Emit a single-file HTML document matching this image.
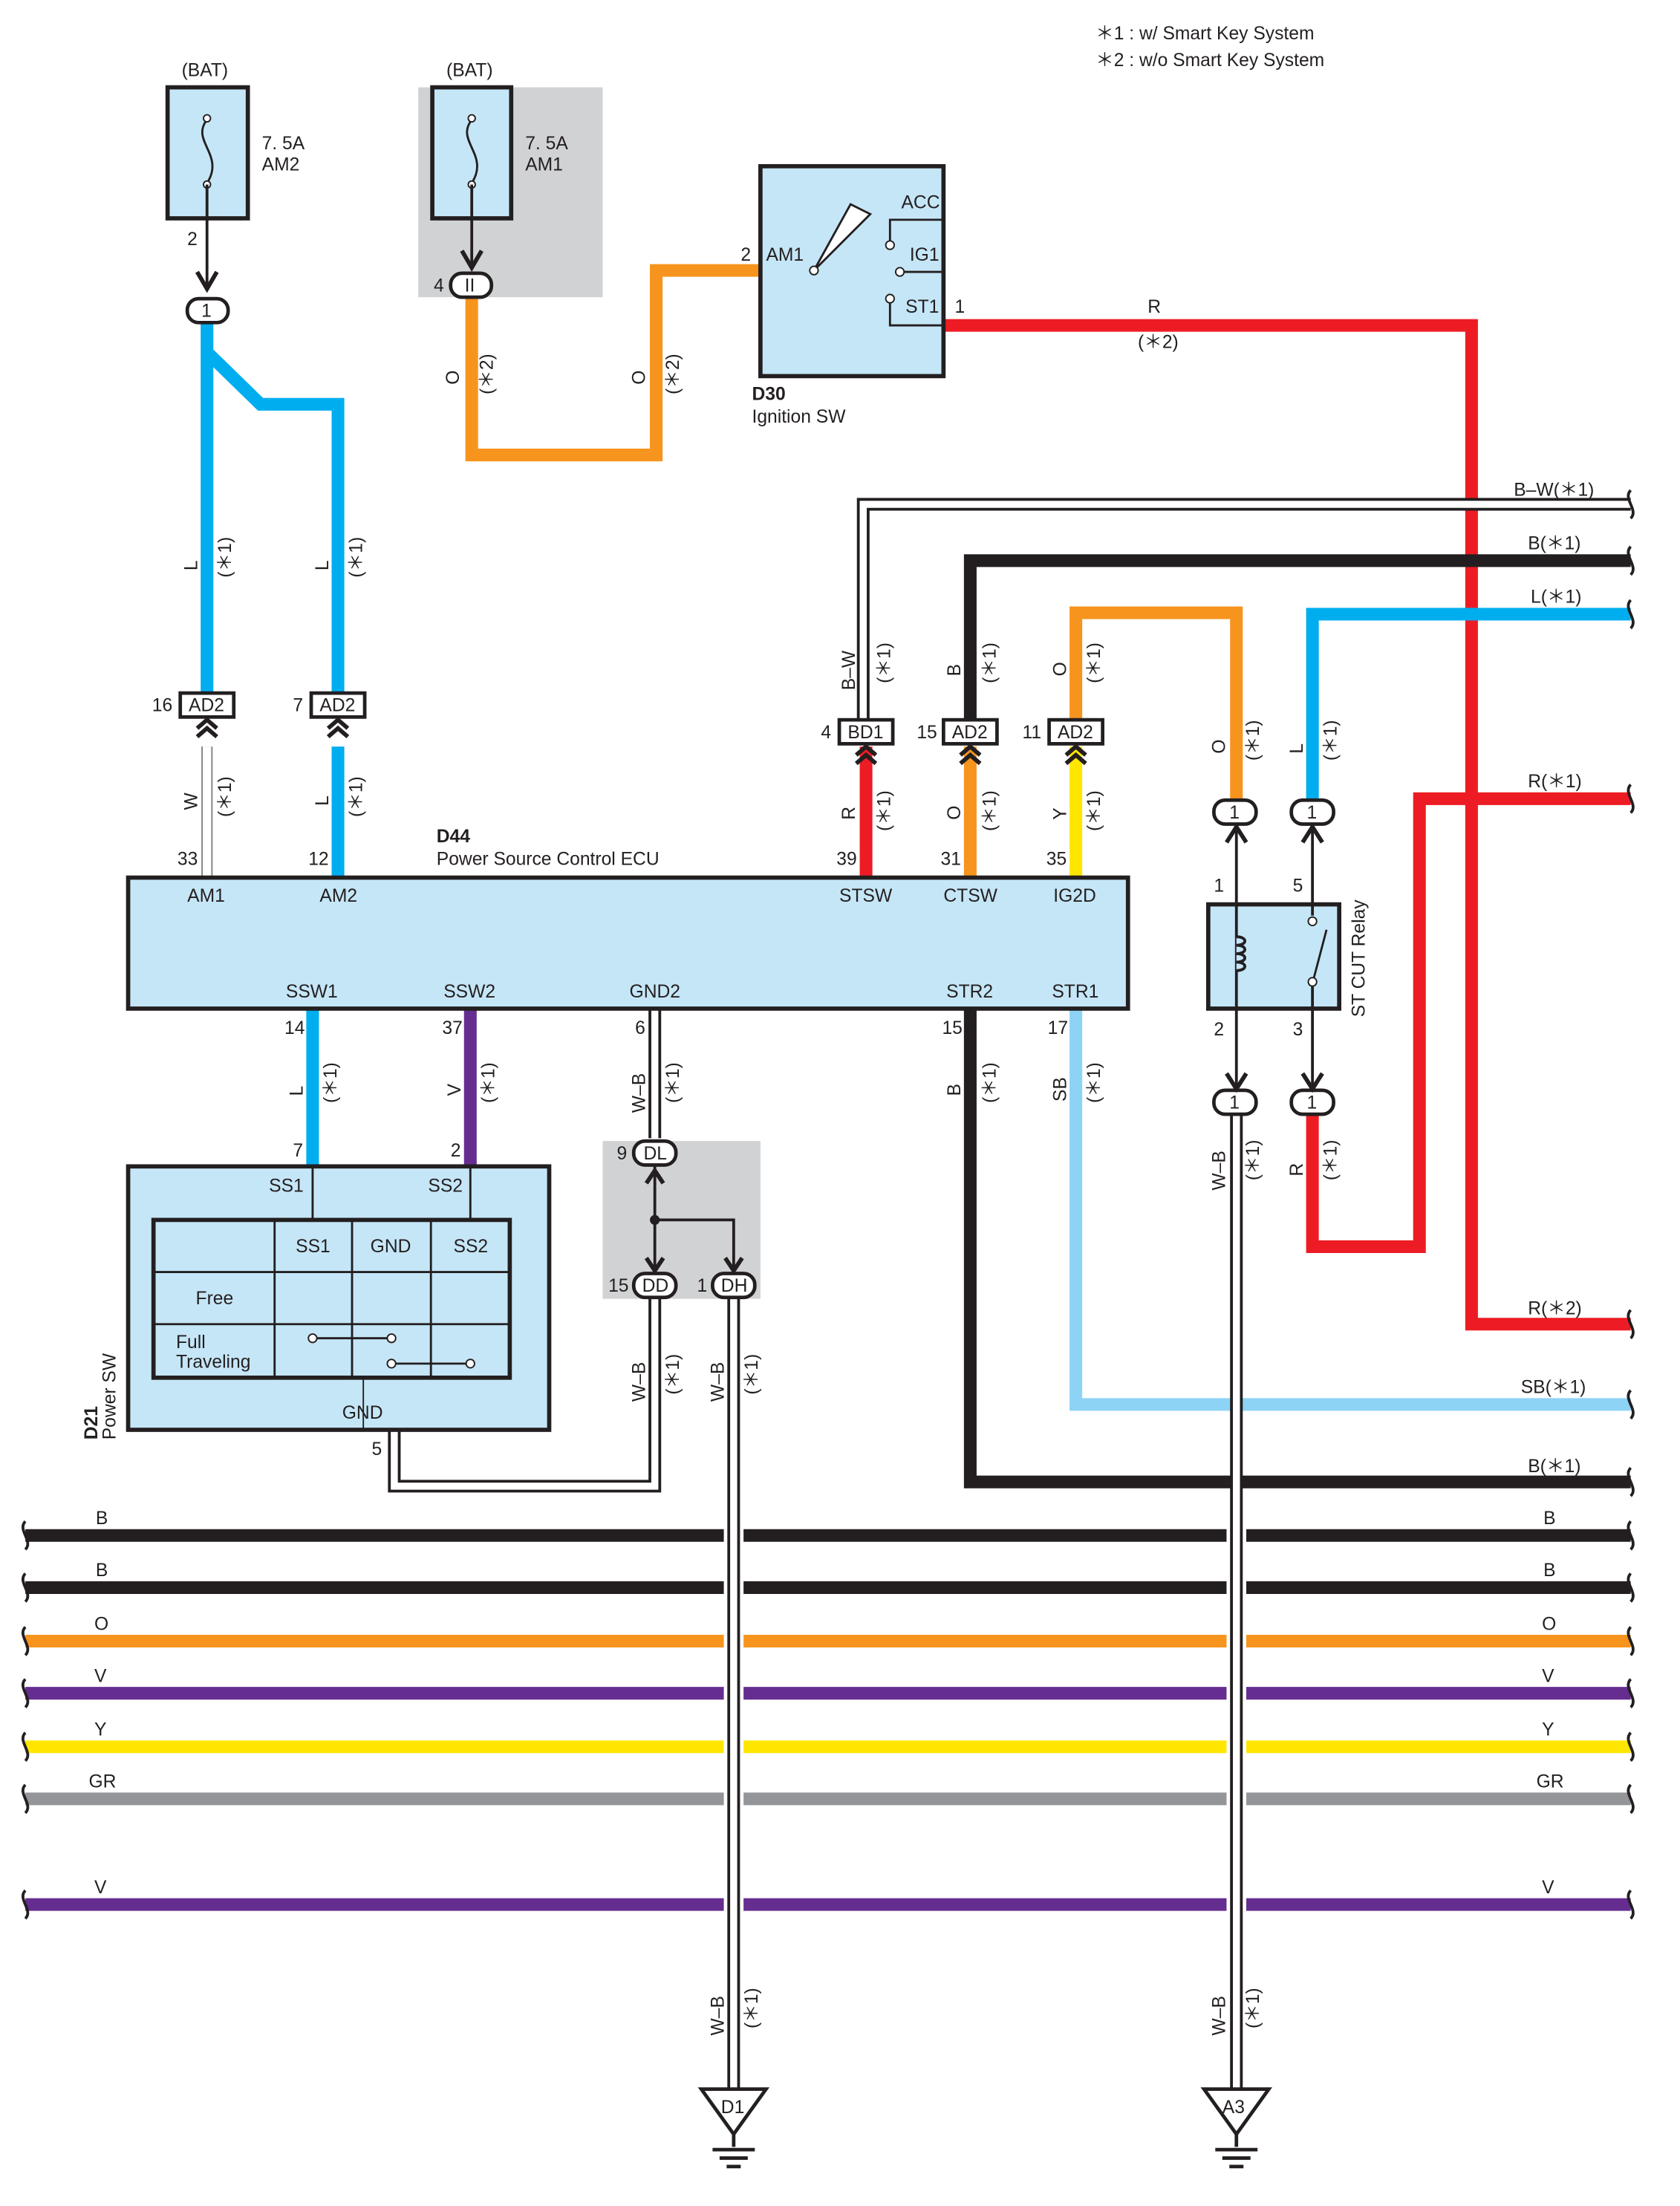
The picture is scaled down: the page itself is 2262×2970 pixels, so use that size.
<!DOCTYPE html>
<html><head><meta charset="utf-8"><style>
html,body{margin:0;padding:0;background:#fff}
svg{display:block}
text{font-family:"Liberation Sans",sans-serif;font-size:13px;fill:#231f20}
.b{font-weight:bold}
</style></head><body>
<svg width="2262" height="2970" viewBox="0 0 1193 1566" preserveAspectRatio="none" xmlns="http://www.w3.org/2000/svg">
<defs>
<g id="chev"><path d="M-7,7 L0,1 L7,7 M-7,13 L0,7 L7,13" fill="none" stroke="#231f20" stroke-width="3"/></g>
<g id="wav"><path d="M0,-10 C-6,-4 6,4 0,10" fill="none" stroke="#231f20" stroke-width="2"/></g>
</defs>
<text x="778" y="28">＊1 : w/ Smart Key System</text>
<text x="778" y="47">＊2 : w/o Smart Key System</text>

<rect x="297" y="62" width="131" height="149" fill="#d1d2d4"/>
<rect x="428" y="810" width="112" height="112" fill="#d1d2d4"/>

<rect x="119" y="62" width="57" height="93" fill="#c5e6f7" stroke="#231f20" stroke-width="3"/>
<path d="M147,85 C135,100 160,110 147,130" fill="none" stroke="#231f20" stroke-width="1.5"/>
<circle cx="147" cy="84" r="2.5" fill="#fff" stroke="#231f20"/><circle cx="147" cy="131" r="2.5" fill="#fff" stroke="#231f20"/>
<text x="129" y="54">(BAT)</text><text x="186" y="106">7. 5A</text><text x="186" y="121">AM2</text>
<rect x="307" y="62" width="56" height="93" fill="#c5e6f7" stroke="#231f20" stroke-width="3"/>
<path d="M335,85 C323,100 348,110 335,130" fill="none" stroke="#231f20" stroke-width="1.5"/>
<circle cx="335" cy="84" r="2.5" fill="#fff" stroke="#231f20"/><circle cx="335" cy="131" r="2.5" fill="#fff" stroke="#231f20"/>
<text x="317" y="54">(BAT)</text><text x="373" y="106">7. 5A</text><text x="373" y="121">AM1</text>
<line x1="147" y1="131" x2="147" y2="205" stroke="#231f20" stroke-width="2"/>
<path d="M140,193 L147,205 L154,193" fill="none" stroke="#231f20" stroke-width="3"/>
<text x="133" y="174">2</text>
<line x1="335" y1="131" x2="335" y2="190" stroke="#231f20" stroke-width="2"/>
<path d="M328,178 L335,190 L342,178" fill="none" stroke="#231f20" stroke-width="3"/>
<text x="308" y="207">4</text>

<g fill="none" stroke-width="9" stroke-linejoin="miter">
<path d="M147,228 V492 M147,250 L185,287 H240 V492" stroke="#00aeef"/>
<path d="M335,210 V323 H466 V192 H540" stroke="#f7941d"/>
<path d="M670,231 H1045 V940 H1158" stroke="#ed1c24"/>
<path d="M1158,398 H689 V512" stroke="#231f20"/>
<path d="M878,568 V435 H764 V512" stroke="#f7941d"/>
<path d="M1158,436 H932 V568" stroke="#00aeef"/>
<path d="M932,790 V885 H1008 V567 H1158" stroke="#ed1c24"/>
<path d="M240,530 V623" stroke="#00aeef"/>
<path d="M615,530 V623" stroke="#ed1c24"/>
<path d="M689,530 V623" stroke="#f7941d"/>
<path d="M764,530 V623" stroke="#ffe600"/>
<path d="M222,716 V828" stroke="#00aeef"/>
<path d="M334,716 V828" stroke="#662d91"/>
<path d="M689,716 V1052 H1158" stroke="#231f20"/>
<path d="M764,716 V997 H1158" stroke="#8dd3f5"/>
</g>
<g fill="none" stroke-linejoin="miter">
<path d="M1158,358 H613 V512" stroke="#231f20" stroke-width="9"/>
<path d="M1158,358 H613 V512" stroke="#fff" stroke-width="5"/>
<path d="M147,530 V623" stroke="#808285" stroke-width="8"/><path d="M147,530 V623" stroke="#fff" stroke-width="6"/>
<path d="M465,716 V808 M280,1015 V1055 H465 V920" stroke="#231f20" stroke-width="9"/>
<path d="M465,716 V808 M280,1015 V1055 H465 V920" stroke="#fff" stroke-width="5"/>
</g>

<g stroke-width="9">
<line x1="18" y1="1090" x2="1158" y2="1090" stroke="#231f20"/>
<line x1="18" y1="1127" x2="1158" y2="1127" stroke="#231f20"/>
<line x1="18" y1="1165" x2="1158" y2="1165" stroke="#f7941d"/>
<line x1="18" y1="1202" x2="1158" y2="1202" stroke="#662d91"/>
<line x1="18" y1="1240" x2="1158" y2="1240" stroke="#ffe600"/>
<line x1="18" y1="1277" x2="1158" y2="1277" stroke="#939598"/>
<line x1="18" y1="1352" x2="1158" y2="1352" stroke="#662d91"/>
</g>
<g fill="none">
<path d="M521,1080 V1362 M878,1080 V1362" stroke="#fff" stroke-width="14"/>
<path d="M521,920 V1483 M878,790 V1483" stroke="#231f20" stroke-width="9"/>
<path d="M521,920 V1483 M878,790 V1483" stroke="#fff" stroke-width="5"/>
</g>
<g>
<use href="#wav" x="18" y="1090"/><use href="#wav" x="18" y="1127"/><use href="#wav" x="18" y="1165"/><use href="#wav" x="18" y="1202"/><use href="#wav" x="18" y="1240"/><use href="#wav" x="18" y="1277"/><use href="#wav" x="18" y="1352"/>
<use href="#wav" x="1158" y="1090"/><use href="#wav" x="1158" y="1127"/><use href="#wav" x="1158" y="1165"/><use href="#wav" x="1158" y="1202"/><use href="#wav" x="1158" y="1240"/><use href="#wav" x="1158" y="1277"/><use href="#wav" x="1158" y="1352"/>
<use href="#wav" x="1158" y="358"/><use href="#wav" x="1158" y="398"/><use href="#wav" x="1158" y="436"/><use href="#wav" x="1158" y="567"/><use href="#wav" x="1158" y="940"/><use href="#wav" x="1158" y="997"/><use href="#wav" x="1158" y="1052"/>
</g>
<g>
<text x="68" y="1082">B</text><text x="68" y="1119">B</text><text x="67" y="1157">O</text><text x="67" y="1194">V</text><text x="67" y="1232">Y</text><text x="63" y="1269">GR</text><text x="67" y="1344">V</text>
<text x="1096" y="1082">B</text><text x="1096" y="1119">B</text><text x="1095" y="1157">O</text><text x="1095" y="1194">V</text><text x="1095" y="1232">Y</text><text x="1091" y="1269">GR</text><text x="1095" y="1344">V</text>
<text x="1075" y="352">B–W(＊1)</text><text x="1085" y="390">B(＊1)</text><text x="1087" y="428">L(＊1)</text><text x="1085" y="559">R(＊1)</text><text x="1085" y="933">R(＊2)</text><text x="1080" y="989">SB(＊1)</text><text x="1085" y="1045">B(＊1)</text>
<text x="815" y="222">R</text><text x="808" y="247">(＊2)</text>
</g>

<rect x="540" y="118" width="130" height="149" fill="#c5e6f7" stroke="#231f20" stroke-width="3"/>
<g fill="none" stroke="#231f20" stroke-width="1.5">
<path d="M578,192 L604,145 L618,152 Z" fill="#fff"/>
<path d="M632,176 V156 H670 M639,193 H670 M632,212 V231 H670"/>
</g>
<circle cx="578" cy="192" r="3" fill="#fff" stroke="#231f20"/><circle cx="632" cy="174" r="3" fill="#fff" stroke="#231f20"/><circle cx="639" cy="193" r="3" fill="#fff" stroke="#231f20"/><circle cx="632" cy="212" r="3" fill="#fff" stroke="#231f20"/>
<text x="544" y="185">AM1</text><text x="640" y="148">ACC</text><text x="646" y="185">IG1</text><text x="643" y="222">ST1</text>
<text x="526" y="185">2</text><text x="678" y="222">1</text>
<text x="534" y="284" class="b">D30</text><text x="534" y="300">Ignition SW</text>

<g stroke="#231f20" stroke-width="2.5">
<rect x="133" y="212" width="29" height="17" rx="8" fill="#fff"/>
<rect x="320" y="194" width="29" height="17" rx="8" fill="#fff"/>
<rect x="862" y="568" width="30" height="17" rx="8" fill="#fff"/><rect x="917" y="568" width="30" height="17" rx="8" fill="#fff"/>
<rect x="862" y="774" width="30" height="17" rx="8" fill="#fff"/><rect x="917" y="774" width="30" height="17" rx="8" fill="#fff"/>
<rect x="450" y="810" width="30" height="17" rx="8" fill="#fff"/>
<rect x="450" y="904" width="30" height="17" rx="8" fill="#fff"/><rect x="506" y="904" width="30" height="17" rx="8" fill="#fff"/>
<rect x="128" y="492" width="38" height="17" fill="#fff"/><rect x="221" y="492" width="38" height="17" fill="#fff"/>
<rect x="596" y="511" width="38" height="17" fill="#fff"/><rect x="670" y="511" width="38" height="17" fill="#fff"/><rect x="745" y="511" width="38" height="17" fill="#fff"/>
</g>
<g font-size="12">
<text x="143" y="225">1</text><text x="330" y="207">II</text>
<text x="873" y="581">1</text><text x="928" y="581">1</text><text x="873" y="787">1</text><text x="928" y="787">1</text>
<text x="457" y="823">DL</text><text x="456" y="917">DD</text><text x="512" y="917">DH</text>
<text x="134" y="505">AD2</text><text x="227" y="505">AD2</text><text x="602" y="524">BD1</text><text x="676" y="524">AD2</text><text x="751" y="524">AD2</text>
</g>
<use href="#chev" x="147" y="510"/><use href="#chev" x="240" y="510"/><use href="#chev" x="615" y="529"/><use href="#chev" x="689" y="529"/><use href="#chev" x="764" y="529"/>
<text x="108" y="505">16</text><text x="208" y="505">7</text><text x="583" y="524">4</text><text x="651" y="524">15</text><text x="726" y="524">11</text>

<g>
<text transform="translate(140,405) rotate(-90)">L</text><text transform="translate(164,410) rotate(-90)">(＊1)</text>
<text transform="translate(233,405) rotate(-90)">L</text><text transform="translate(257,410) rotate(-90)">(＊1)</text>
<text transform="translate(326,273) rotate(-90)">O</text><text transform="translate(350,280) rotate(-90)">(＊2)</text>
<text transform="translate(458,273) rotate(-90)">O</text><text transform="translate(482,280) rotate(-90)">(＊2)</text>
<text transform="translate(140,575) rotate(-90)">W</text><text transform="translate(164,580) rotate(-90)">(＊1)</text>
<text transform="translate(233,572) rotate(-90)">L</text><text transform="translate(257,580) rotate(-90)">(＊1)</text>
<text transform="translate(607,490) rotate(-90)">B–W</text><text transform="translate(632,485) rotate(-90)">(＊1)</text>
<text transform="translate(682,480) rotate(-90)">B</text><text transform="translate(707,485) rotate(-90)">(＊1)</text>
<text transform="translate(757,480) rotate(-90)">O</text><text transform="translate(781,485) rotate(-90)">(＊1)</text>
<text transform="translate(607,582) rotate(-90)">R</text><text transform="translate(632,590) rotate(-90)">(＊1)</text>
<text transform="translate(682,582) rotate(-90)">O</text><text transform="translate(707,590) rotate(-90)">(＊1)</text>
<text transform="translate(757,582) rotate(-90)">Y</text><text transform="translate(781,590) rotate(-90)">(＊1)</text>
<text transform="translate(870,535) rotate(-90)">O</text><text transform="translate(894,540) rotate(-90)">(＊1)</text>
<text transform="translate(925,535) rotate(-90)">L</text><text transform="translate(949,540) rotate(-90)">(＊1)</text>
<text transform="translate(215,778) rotate(-90)">L</text><text transform="translate(239,783) rotate(-90)">(＊1)</text>
<text transform="translate(327,778) rotate(-90)">V</text><text transform="translate(351,783) rotate(-90)">(＊1)</text>
<text transform="translate(458,790) rotate(-90)">W–B</text><text transform="translate(482,783) rotate(-90)">(＊1)</text>
<text transform="translate(682,778) rotate(-90)">B</text><text transform="translate(707,783) rotate(-90)">(＊1)</text>
<text transform="translate(757,782) rotate(-90)">SB</text><text transform="translate(781,783) rotate(-90)">(＊1)</text>
<text transform="translate(870,845) rotate(-90)">W–B</text><text transform="translate(894,838) rotate(-90)">(＊1)</text>
<text transform="translate(925,835) rotate(-90)">R</text><text transform="translate(949,838) rotate(-90)">(＊1)</text>
<text transform="translate(458,995) rotate(-90)">W–B</text><text transform="translate(482,990) rotate(-90)">(＊1)</text>
<text transform="translate(514,995) rotate(-90)">W–B</text><text transform="translate(538,990) rotate(-90)">(＊1)</text>
<text transform="translate(514,1445) rotate(-90)">W–B</text><text transform="translate(538,1440) rotate(-90)">(＊1)</text>
<text transform="translate(870,1445) rotate(-90)">W–B</text><text transform="translate(894,1440) rotate(-90)">(＊1)</text>
<text transform="translate(69,1022) rotate(-90)" class="b">D21</text><text transform="translate(82,1022) rotate(-90)">Power SW</text>
<text transform="translate(969,722) rotate(-90)">ST CUT Relay</text>
</g>

<rect x="91" y="623" width="710" height="93" fill="#c5e6f7" stroke="#231f20" stroke-width="3"/>
<text x="310" y="598" class="b">D44</text><text x="310" y="614">Power Source Control ECU</text>
<text x="133" y="640">AM1</text><text x="227" y="640">AM2</text><text x="596" y="640">STSW</text><text x="670" y="640">CTSW</text><text x="748" y="640">IG2D</text>
<text x="203" y="708">SSW1</text><text x="315" y="708">SSW2</text><text x="447" y="708">GND2</text><text x="672" y="708">STR2</text><text x="747" y="708">STR1</text>
<text x="126" y="614">33</text><text x="219" y="614">12</text><text x="594" y="614">39</text><text x="668" y="614">31</text><text x="743" y="614">35</text>
<text x="202" y="734">14</text><text x="314" y="734">37</text><text x="451" y="734">6</text><text x="669" y="734">15</text><text x="744" y="734">17</text>

<rect x="91" y="828" width="299" height="187" fill="#c5e6f7" stroke="#231f20" stroke-width="3"/>
<g stroke="#231f20" fill="none">
<line x1="222" y1="828" x2="222" y2="866" stroke-width="1.5"/><line x1="334" y1="828" x2="334" y2="866" stroke-width="1.5"/>
<rect x="109" y="866" width="253" height="112" stroke-width="3"/>
<path d="M195,866 V978 M250,866 V978 M306,866 V978 M109,903 H362 M109,940 H362" stroke-width="1.5"/>
<path d="M222,950 H278 M278,968 H334" stroke-width="1.5"/>
<line x1="258" y1="978" x2="258" y2="1015" stroke-width="1"/>
</g>
<circle cx="222" cy="950" r="3" fill="#fff" stroke="#231f20"/><circle cx="278" cy="950" r="3" fill="#fff" stroke="#231f20"/>
<circle cx="278" cy="968" r="3" fill="#fff" stroke="#231f20"/><circle cx="334" cy="968" r="3" fill="#fff" stroke="#231f20"/>
<text x="191" y="846">SS1</text><text x="304" y="846">SS2</text>
<text x="210" y="889">SS1</text><text x="263" y="889">GND</text><text x="322" y="889">SS2</text>
<text x="139" y="926">Free</text><text x="125" y="957">Full</text><text x="125" y="971">Traveling</text>
<text x="243" y="1007">GND</text>
<text x="208" y="821">7</text><text x="320" y="821">2</text><text x="264" y="1033">5</text>

<g stroke="#231f20" stroke-width="2" fill="none">
<line x1="465" y1="827" x2="465" y2="904"/><path d="M465,866 H521 V904"/>
<path d="M459,840 L465,831 L471,840" stroke-width="3"/>
<path d="M459,893 L465,902 L471,893 M515,893 L521,902 L527,893" stroke-width="3"/>
</g>
<circle cx="465" cy="866" r="3.5" fill="#231f20"/>
<text x="438" y="823">9</text><text x="432" y="917">15</text><text x="495" y="917">1</text>

<rect x="858" y="642" width="93" height="74" fill="#c5e6f7" stroke="#231f20" stroke-width="3"/>
<g stroke="#231f20" stroke-width="2" fill="none">
<line x1="878" y1="585" x2="878" y2="774"/><line x1="932" y1="585" x2="932" y2="650"/><line x1="932" y1="698" x2="932" y2="774"/>
<path d="M878,665 c8,0 8,6 0,6 c8,0 8,6 0,6 c8,0 8,6 0,6 c8,0 8,6 0,6" fill="#c5e6f7"/>
<path d="M932,698 L942,660" stroke-width="1.5"/>
<path d="M871,598 L878,587 L885,598 M925,598 L932,587 L939,598" stroke-width="3"/>
<path d="M871,762 L878,773 L885,762 M925,762 L932,773 L939,762" stroke-width="3"/>
</g>
<circle cx="932" cy="654" r="3" fill="#fff" stroke="#231f20"/><circle cx="932" cy="697" r="3" fill="#fff" stroke="#231f20"/>
<text x="862" y="633">1</text><text x="918" y="633">5</text><text x="862" y="735">2</text><text x="918" y="735">3</text>

<g stroke="#231f20" stroke-width="2.5" fill="#fff">
<path d="M498,1483 H544 L521,1515 Z"/><path d="M855,1483 H901 L878,1515 Z"/>
<path d="M521,1515 V1524 M506,1526 H536 M511,1532 H531 M516,1538 H526 M878,1515 V1524 M863,1526 H893 M868,1532 H888 M873,1538 H883" fill="none"/>
</g>
<text x="512" y="1500" font-size="12">D1</text><text x="868" y="1500" font-size="12">A3</text>
</svg>
</body></html>
